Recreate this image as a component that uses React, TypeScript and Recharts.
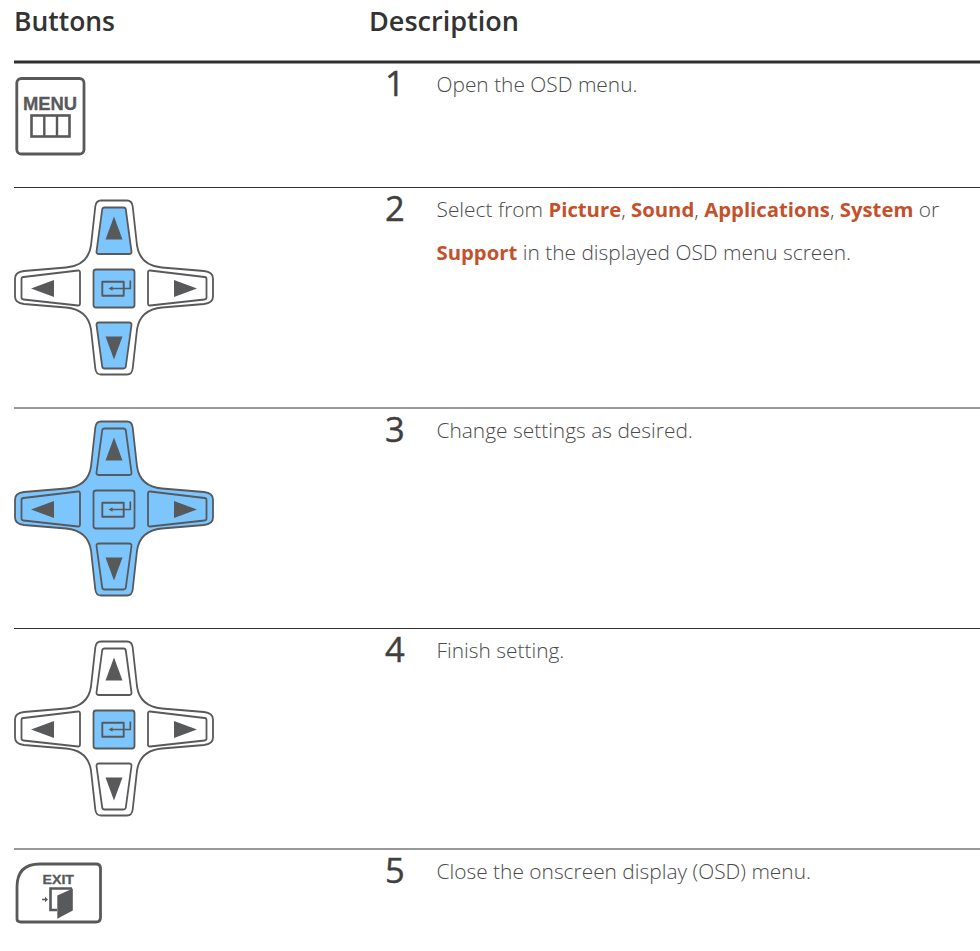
import React from 'react';
import { ComposedChart, XAxis, YAxis, Scatter, ReferenceLine } from 'recharts';

const FONT = '"Open Sans", sans-serif';
const ICON_FONT = '"Liberation Sans", Arial, sans-serif';
const INK = '#58595b';
const BLUE = '#7cc6fd';
const TEXT = '#4a4a4a';
const ORANGE = '#c4512b';

const WIDTH = 980;
const HEIGHT = 951;

const headers = ['Buttons', 'Description'];
const rowNumbers = ['1', '2', '3', '4', '5'];
const rowIcons = ['menu', 'pad', 'pad', 'pad', 'exit'];
// which parts of the pad are lit: body, up, down, left, right, ok
const padLit = [[], ['up', 'down', 'ok'], ['body', 'up', 'down', 'left', 'right', 'ok'], ['ok'], []];
const rowText = [
  [[['Open the OSD menu.', false]]],
  [
    [['Select from ', false], ['Picture', true], [', ', false], ['Sound', true], [', ', false], ['Applications', true], [', ', false], ['System', true], [' or', false]],
    [['Support', true], [' in the displayed OSD menu screen.', false]],
  ],
  [[['Change settings as desired.', false]]],
  [[['Finish setting.', false]]],
  [[['Close the onscreen display (OSD) menu.', false]]],
];

// layout of the table, in page pixels
const ruleY = [187.5, 408, 628.5, 849];
const rowTop = [62, 187, 408, 628, 849];
const headerWidths = [101, 150];

const headerData = headers.map((label, i) => ({ x: i === 0 ? 14 : 369, y: 31, label, len: headerWidths[i] }));
const numberData = rowNumbers.map((label, i) => ({ x: 385, y: rowTop[i] + 34, label }));
const textData = rowText.map((lines, i) => ({ x: 436.5, y: rowTop[i] + 30, lines }));
const iconData = rowIcons.map((kind, i) => ({
  x: kind === 'pad' ? 114 : 0,
  y: kind === 'pad' ? rowTop[i] + 100.5 : rowTop[i],
  kind,
  lit: padLit[i],
}));

const OUTER =
  'M-13,-87 L13,-87 Q18,-87 18.7,-81 L23,-42 Q26,-22 48,-20 L90,-16.5 Q99,-15.5 99,-9 L99,9 Q99,15.5 90,16.5 L48,20 Q26,22 23,42 L18.7,81 Q18,87 13,87 L-13,87 Q-18,87 -18.7,81 L-23,42 Q-26,22 -48,20 L-90,16.5 Q-99,15.5 -99,9 L-99,-9 Q-99,-15.5 -90,-16.5 L-48,-20 Q-26,-22 -23,-42 L-18.7,-81 Q-18,-87 -13,-87 Z';
const BTN_UP = 'M-9.5,-80 L9.5,-80 Q11.5,-80 11.8,-78 L17.5,-36 Q17.8,-33.5 15,-33.5 L-15,-33.5 Q-17.8,-33.5 -17.5,-36 L-11.8,-78 Q-11.5,-80 -9.5,-80 Z';
const BTN_DOWN = 'M-15,35 L15,35 Q17.8,35 17.5,37.5 L11.8,79 Q11.5,81 9.5,81 L-9.5,81 Q-11.5,81 -11.8,79 L-17.5,37.5 Q-17.8,35 -15,35 Z';
const BTN_LEFT = 'M-90.5,-10.5 L-36,-17 Q-34,-17.2 -34,-15 L-34,16 Q-34,18.2 -36,18 L-90.5,12 Q-92.5,11.8 -92.5,10 L-92.5,-8.5 Q-92.5,-10.3 -90.5,-10.5 Z';
const BTN_RIGHT = 'M90.5,-10.5 L36,-17 Q34,-17.2 34,-15 L34,16 Q34,18.2 36,18 L90.5,12 Q92.5,11.8 92.5,10 L92.5,-8.5 Q92.5,-10.3 90.5,-10.5 Z';

const PadIcon = ({ cx, cy, lit }: any) => {
  const fill = (part: string) => (lit.includes(part) ? BLUE : '#fff');
  return (
    <g transform={`translate(${cx},${cy})`} stroke={INK} strokeLinejoin="round" strokeWidth={1.8}>
      <path d={OUTER} fill={fill('body')} />
      <path d={BTN_UP} fill={fill('up')} />
      <path d={BTN_DOWN} fill={fill('down')} />
      <path d={BTN_LEFT} fill={fill('left')} />
      <path d={BTN_RIGHT} fill={fill('right')} />
      <rect x={-20.5} y={-18} width={41} height={38} rx={2.5} fill={fill('ok')} />
      <g stroke="none" fill={INK}>
        <path d="M0,-71 L8.5,-48 L-8.5,-48 Z" />
        <path d="M0,72 L8.5,49 L-8.5,49 Z" />
        <path d="M-83,1 L-60,-7.5 L-60,9.5 Z" />
        <path d="M83,1 L60,-7.5 L60,9.5 Z" />
        <path d="M-5.5,1 L-1.5,-1.3 L-1.5,3.3 Z" />
      </g>
      <rect x={-11.7} y={-5.7} width={21.4} height={14} fill="none" strokeWidth={1.9} />
      <path d="M16.3,-7 L16.3,1 L-2,1" fill="none" strokeWidth={1.7} />
    </g>
  );
};

const MenuIcon = ({ cy }: any) => (
  <g transform={`translate(0,${cy})`} stroke={INK} fill="none">
    <rect x={16.8} y={16.5} width={67.2} height={75.5} rx={4.5} strokeWidth={2.8} />
    <text x={50} y={47.5} textAnchor="middle" stroke={INK} strokeWidth={0.3} fill={INK} fontFamily={ICON_FONT} fontWeight={700} fontSize={18.4}>MENU</text>
    <rect x={31.5} y={53.5} width={38} height={21} strokeWidth={2.6} />
    <path d="M44.3,53.5 V74.5 M57,53.5 V74.5" strokeWidth={2.4} />
  </g>
);

const ExitIcon = ({ cy }: any) => (
  <g transform={`translate(0,${cy})`} stroke={INK} fill="none">
    <path d="M17,70 L17,38 Q17,15 40,15 L96,15 Q100.5,15 100.5,19.5 L100.5,68.5 Q100.5,73 96,73 L21,73 Q17,73 17,70 Z" strokeWidth={2.8} />
    <text x={42.5} y={34.5} stroke={INK} strokeWidth={0.3} fill={INK} fontFamily={ICON_FONT} fontWeight={700} fontSize={12.5} textLength={31.5} lengthAdjust="spacingAndGlyphs">EXIT</text>
    <path d="M57,61 L50.5,61 L50.5,39.5 L72,39.5" strokeWidth={2.6} />
    <path d="M57.3,46.5 L72.8,39.5 L72.8,61.5 L57.3,69.8 Z" fill={INK} stroke="none" />
    <path d="M42,49.8 L45,49.8 L45,47.8 L48,50.5 L45,53.2 L45,51.2 L42,51.2 Z" fill={INK} stroke="none" />
  </g>
);

const IconShape = (props: any) => {
  const { kind } = props.payload;
  if (kind === 'menu') return <MenuIcon cy={props.cy} />;
  if (kind === 'exit') return <ExitIcon cy={props.cy} />;
  return <PadIcon cx={props.cx} cy={props.cy} lit={props.payload.lit} />;
};

const HeaderShape = ({ cx, cy, payload }: any) => (
  <text x={cx} y={cy} fontFamily={FONT} fontWeight={600} fontSize={27.5} fill="#333" textLength={payload.len} lengthAdjust="spacingAndGlyphs">{payload.label}</text>
);

const NumberShape = ({ cx, cy, payload }: any) => (
  <text x={cx} y={cy} fontFamily={FONT} fontSize={34.5} fill="#404040" stroke="#404040" strokeWidth={0.4}>{payload.label}</text>
);

const TextShape = ({ cx, cy, payload }: any) => (
  <g>
    {payload.lines.map((runs: any[], i: number) => (
      <text key={i} x={cx} y={cy + i * 43} fontFamily={FONT} fontSize={20.9} fontWeight={300} fill={TEXT} xmlSpace="preserve">
        {runs.map(([s, bold]: any, j: number) => (
          <tspan key={j} fontWeight={bold ? 700 : 300} fontSize={bold ? 20.3 : 20.9} fill={bold ? ORANGE : TEXT}>{s}</tspan>
        ))}
      </text>
    ))}
  </g>
);

export default function App() {
  return (
    <div style={{ position: 'absolute', left: 0, top: 0, width: WIDTH, height: HEIGHT, background: '#fff' }}>
      <ComposedChart width={WIDTH} height={HEIGHT} margin={{ top: 0, right: 0, bottom: 0, left: 0 }}>
        <XAxis type="number" dataKey="x" domain={[0, WIDTH]} hide />
        <YAxis type="number" dataKey="y" domain={[0, HEIGHT]} reversed hide />
        <ReferenceLine segment={[{ x: 14, y: 62 }, { x: WIDTH, y: 62 }]} stroke="#2f2f2f" strokeWidth={3} />
        {ruleY.map(y => (
          <ReferenceLine key={y} segment={[{ x: 14, y: y + 0.01 }, { x: WIDTH, y: y + 0.01 }]} stroke="#333" strokeWidth={1} />
        ))}
        <Scatter data={headerData} shape={HeaderShape} isAnimationActive={false} />
        <Scatter data={numberData} shape={NumberShape} isAnimationActive={false} />
        <Scatter data={textData} shape={TextShape} isAnimationActive={false} />
        <Scatter data={iconData} shape={IconShape} isAnimationActive={false} />
      </ComposedChart>
    </div>
  );
}
